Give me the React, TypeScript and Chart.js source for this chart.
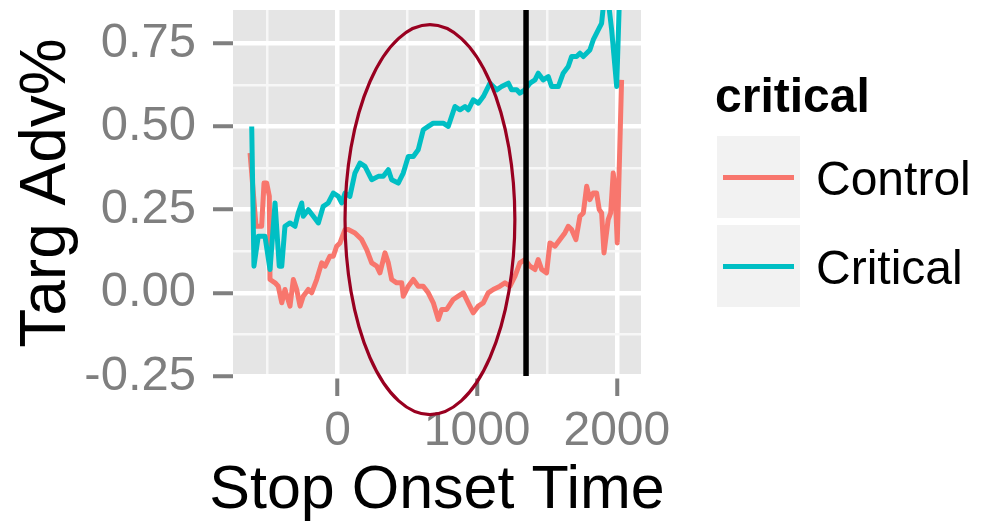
import React, { useEffect, useRef } from "react";
import { Chart, registerables } from "chart.js";
Chart.register(...registerables);

const FONT = "'Liberation Sans', Arial, Helvetica, sans-serif";

const seriesNames = ["Control", "Critical"];
const seriesColors = ["#F8766D", "#00BFC4"];
const legendTitle = "critical";

const controlX = [-626, -583, -543, -526, -507, -488, -483, -447, -424, -399, -376, -340, -316, -292, -268, -245, -209, -185, -149, -113, -89, -54, -30, -6, 18, 54, 77, 125, 173, 209, 245, 281, 304, 340, 364, 388, 424, 460, 471, 507, 543, 578, 614, 650, 686, 722, 746, 782, 829, 865, 901, 936, 972, 1008, 1044, 1079, 1115, 1163, 1199, 1235, 1271, 1306, 1342, 1378, 1414, 1437, 1462, 1497, 1521, 1557, 1593, 1628, 1652, 1676, 1707, 1736, 1760, 1784, 1807, 1831, 1855, 1874, 1891, 1908, 1938, 1956, 1974, 1986, 2003, 2034];
const controlY = [0.42, 0.20, 0.20, 0.33, 0.33, 0.29, 0.04, 0.03, 0.02, -0.03, 0.01, -0.04, 0.04, 0.01, -0.04, -0.01, 0.01, 0.00, 0.04, 0.09, 0.08, 0.11, 0.11, 0.14, 0.15, 0.19, 0.19, 0.18, 0.16, 0.13, 0.09, 0.08, 0.06, 0.12, 0.09, 0.04, 0.03, 0.03, -0.01, 0.02, 0.04, 0.02, 0.02, 0.00, -0.03, -0.08, -0.05, -0.05, -0.02, -0.01, 0.00, -0.03, -0.06, -0.04, -0.03, 0.00, 0.01, 0.02, 0.03, 0.02, 0.05, 0.09, 0.10, 0.08, 0.07, 0.10, 0.07, 0.06, 0.15, 0.14, 0.16, 0.18, 0.20, 0.19, 0.16, 0.23, 0.24, 0.32, 0.28, 0.30, 0.30, 0.25, 0.24, 0.12, 0.22, 0.24, 0.36, 0.32, 0.15, 0.64];

const criticalX = [-614, -598, -567, -519, -483, -447, -417, -399, -376, -340, -304, -281, -256, -245, -209, -173, -137, -102, -66, -30, 6, 30, 54, 89, 125, 161, 197, 245, 292, 328, 364, 388, 435, 471, 507, 543, 578, 614, 650, 686, 722, 757, 793, 841, 877, 913, 936, 972, 1008, 1044, 1092, 1140, 1175, 1223, 1247, 1283, 1306, 1342, 1378, 1414, 1437, 1473, 1509, 1533, 1581, 1616, 1652, 1676, 1712, 1736, 1760, 1807, 1831, 1867, 1891, 1908, 1938, 1963, 1999, 2022];
const criticalY = [0.50, 0.08, 0.17, 0.17, 0.07, 0.27, 0.08, 0.08, 0.20, 0.21, 0.20, 0.24, 0.27, 0.23, 0.25, 0.23, 0.21, 0.26, 0.27, 0.30, 0.29, 0.27, 0.30, 0.29, 0.36, 0.39, 0.38, 0.34, 0.35, 0.35, 0.37, 0.34, 0.33, 0.36, 0.41, 0.41, 0.43, 0.49, 0.50, 0.51, 0.51, 0.51, 0.50, 0.56, 0.55, 0.56, 0.55, 0.58, 0.57, 0.59, 0.63, 0.61, 0.62, 0.63, 0.61, 0.61, 0.60, 0.61, 0.63, 0.64, 0.66, 0.64, 0.65, 0.62, 0.62, 0.66, 0.68, 0.71, 0.71, 0.72, 0.71, 0.73, 0.76, 0.79, 0.81, 0.88, 0.88, 0.79, 0.62, 0.93];

const xMajorTicks = [0, 1000, 2000];
const xMinorTicks = [-500, 500, 1500];
const xTickLabels = ["0", "1000", "2000"];
const yMajorTicks = [-0.25, 0, 0.25, 0.5, 0.75];
const yMinorTicks = [-0.125, 0.125, 0.375, 0.625];
const yTickLabels = ["-0.25", "0.00", "0.25", "0.50", "0.75"];

const xRange = [-748, 2173];
const yRange = [-0.25, 0.85];
const markerX = 1350;
const ellipseCenter = [662, 0.22];
const ellipseRadii = [608, 0.586];

const xTitle = "Stop Onset Time";
const yTitle = "Targ Adv%";

function isMajor(v: number, majors: number[]) {
  return majors.some((m) => Math.abs(m - v) < 1e-9);
}

export default function App() {
  const ref = useRef<HTMLCanvasElement | null>(null);
  useEffect(() => {
    document.body.style.margin = "0";
    const canvas = ref.current!;
    const toPts = (xs: number[], ys: number[]) => xs.map((x, i) => ({ x, y: ys[i] }));

    const bgPlugin = {
      id: "panelBg",
      beforeDraw(chart: any) {
        const { ctx, chartArea: a } = chart;
        ctx.save();
        ctx.fillStyle = "#FFFFFF";
        ctx.fillRect(0, 0, chart.width, chart.height);
        ctx.fillStyle = "#E5E5E5";
        ctx.fillRect(a.left, a.top, a.right - a.left, a.bottom - a.top);
        ctx.restore();
      },
    };

    const overlayPlugin = {
      id: "overlay",
      afterDraw(chart: any) {
        const { ctx, chartArea: a } = chart;
        const xs = chart.scales.x;
        const ys = chart.scales.y;
        const cx = xs.getPixelForValue(ellipseCenter[0]);
        const cy = ys.getPixelForValue(ellipseCenter[1]);
        const rx = Math.abs(xs.getPixelForValue(ellipseCenter[0] + ellipseRadii[0]) - cx);
        const ry = Math.abs(ys.getPixelForValue(ellipseCenter[1] + ellipseRadii[1]) - cy);
        ctx.save();
        ctx.beginPath();
        ctx.ellipse(cx, cy, rx, ry, 0, 0, Math.PI * 2);
        ctx.strokeStyle = "#990020";
        ctx.lineWidth = 3.2;
        ctx.stroke();
        ctx.restore();

        // x-axis title (drawn here so it is not squeezed to the plot width)
        ctx.save();
        ctx.fillStyle = "#000000";
        ctx.textAlign = "center";
        ctx.textBaseline = "alphabetic";
        ctx.font = `61px ${FONT}`;
        ctx.fillText(xTitle, (a.left + a.right) / 2, 508);
        ctx.restore();

        // legend
        ctx.save();
        ctx.fillStyle = "#000000";
        ctx.textBaseline = "alphabetic";
        ctx.textAlign = "left";
        ctx.font = `bold 48px ${FONT}`;
        ctx.fillText(legendTitle, 715, 112);
        seriesNames.forEach((name, i) => {
          const top = 136 + i * 89;
          ctx.fillStyle = "#F2F2F2";
          ctx.fillRect(717, top, 83, 82);
          ctx.beginPath();
          ctx.moveTo(723, top + 41.5);
          ctx.lineTo(794, top + 41.5);
          ctx.strokeStyle = seriesColors[i];
          ctx.lineWidth = 5;
          ctx.stroke();
          ctx.fillStyle = "#000000";
          ctx.font = `48px ${FONT}`;
          ctx.fillText(name, 816, top + 59);
        });
        ctx.restore();
      },
    };

    const chart = new Chart(canvas, {
      type: "line",
      data: {
        datasets: [
          {
            label: "marker",
            data: [
              { x: markerX, y: yRange[0] },
              { x: markerX, y: yRange[1] },
            ],
            borderColor: "#000000",
            borderWidth: 5.5,
            pointRadius: 0,
            clip: 0,
          },
          {
            label: seriesNames[1],
            data: toPts(criticalX, criticalY),
            borderColor: seriesColors[1],
            borderWidth: 5,
            pointRadius: 0,
            tension: 0,
            borderJoinStyle: "round",
            clip: 0,
          },
          {
            label: seriesNames[0],
            data: toPts(controlX, controlY),
            borderColor: seriesColors[0],
            borderWidth: 5,
            pointRadius: 0,
            tension: 0,
            borderJoinStyle: "round",
            clip: 0,
          },
        ],
      },
      options: {
        animation: false,
        responsive: false,
        events: [],
        layout: { padding: { left: 0, top: 10, right: 350, bottom: 0 } },
        plugins: { legend: { display: false }, tooltip: { enabled: false } },
        scales: {
          x: {
            type: "linear",
            min: xRange[0],
            max: xRange[1],
            border: { display: false },
            afterBuildTicks: (s: any) => {
              s.ticks = [...xMinorTicks, ...xMajorTicks].sort((a, b) => a - b).map((v) => ({ value: v }));
            },
            afterFit: (s: any) => {
              s.height = 145;
              s.paddingLeft = 0;
              s.paddingRight = 0;
              s.paddingTop = 0;
              s.paddingBottom = 0;
            },
            grid: {
              color: (c: any) => (isMajor(c.tick.value, xMajorTicks) ? "#FFFFFF" : "#F7F7F7"),
              lineWidth: (c: any) => (isMajor(c.tick.value, xMajorTicks) ? 4.5 : 2.5),
              tickColor: (c: any) => (isMajor(c.tick.value, xMajorTicks) ? "#7F7F7F" : "rgba(0,0,0,0)"),
              tickWidth: 4,
              tickLength: 20,
              drawTicks: true,
            },
            ticks: {
              autoSkip: false,
              maxRotation: 0,
              minRotation: 0,
              padding: 7,
              color: "#7F7F7F",
              font: { family: FONT, size: 48, lineHeight: 1.2 },
              callback: (v: any) => {
                const i = xMajorTicks.findIndex((m) => Math.abs(m - v) < 1e-9);
                return i >= 0 ? xTickLabels[i] : "";
              },
            },
            title: { display: false, text: xTitle },
          },
          y: {
            type: "linear",
            min: yRange[0],
            max: yRange[1],
            border: { display: false },
            afterBuildTicks: (s: any) => {
              s.ticks = [...yMinorTicks, ...yMajorTicks].sort((a, b) => a - b).map((v) => ({ value: v }));
            },
            afterFit: (s: any) => {
              s.width = 233;
              s.paddingLeft = 0;
              s.paddingRight = 0;
              s.paddingTop = 0;
              s.paddingBottom = 0;
            },
            grid: {
              color: (c: any) => (isMajor(c.tick.value, yMajorTicks) ? "#FFFFFF" : "#F7F7F7"),
              lineWidth: (c: any) => (isMajor(c.tick.value, yMajorTicks) ? 4.5 : 2.5),
              tickColor: (c: any) => (isMajor(c.tick.value, yMajorTicks) ? "#7F7F7F" : "rgba(0,0,0,0)"),
              tickWidth: 4,
              tickLength: 20,
              drawTicks: true,
            },
            ticks: {
              autoSkip: false,
              padding: 17,
              color: "#7F7F7F",
              font: { family: FONT, size: 49, lineHeight: 1.2 },
              callback: (v: any) => {
                const i = yMajorTicks.findIndex((m) => Math.abs(m - v) < 1e-9);
                return i >= 0 ? yTickLabels[i] : "";
              },
            },
            title: {
              display: true,
              text: yTitle,
              color: "#000000",
              font: { family: FONT, size: 64, lineHeight: 1 },
              padding: { top: 15, bottom: 0 },
            },
          },
        },
      },
      plugins: [bgPlugin, overlayPlugin],
    } as any);
    return () => chart.destroy();
  }, []);
  return (
    <div style={{ width: 991, height: 521 }}>
      <canvas ref={ref} width={991} height={521} style={{ display: "block" }} />
    </div>
  );
}
